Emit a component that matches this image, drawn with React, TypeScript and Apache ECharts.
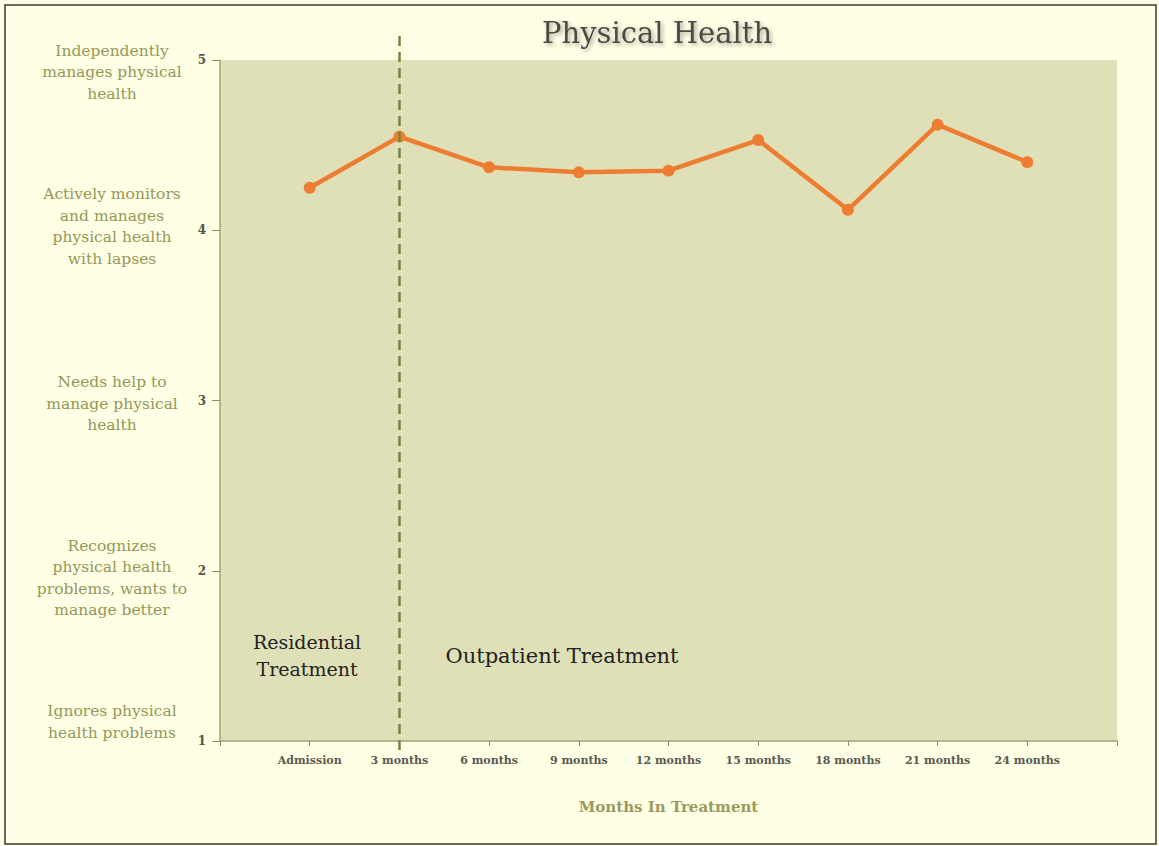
import React, { useEffect, useRef } from "react";
import * as echarts from "echarts";

const categories = ["", "Admission", "3 months", "6 months", "9 months", "12 months", "15 months", "18 months", "21 months", "24 months", ""];
const scores = [null, 4.25, 4.55, 4.37, 4.34, 4.35, 4.53, 4.12, 4.62, 4.40, null];
const levelLabels = [
  { value: 5, text: "Independently\nmanages physical\nhealth", offset: 12 },
  { value: 4, text: "Actively monitors\nand manages\nphysical health\nwith lapses", offset: -4 },
  { value: 3, text: "Needs help to\nmanage physical\nhealth", offset: 3 },
  { value: 2, text: "Recognizes\nphysical health\nproblems, wants to\nmanage better", offset: 7 },
  { value: 1, text: "Ignores physical\nhealth problems", offset: -19 },
];
const dividerCategory = "3 months";

const SERIF = "'DejaVu Serif', 'Liberation Serif', serif";

export default function App() {
  const ref = useRef<HTMLDivElement>(null);
  useEffect(() => {
    document.body.style.margin = "0";
    const chart = echarts.init(ref.current!, null, { renderer: "svg" });
    const gridLeft = 220;
    const gridTop = 60;
    const gridRight = 1159 - 1117;
    const gridBottom = 846 - 741;
    const option: any = {
      animation: false,
      backgroundColor: "#FFFFE6",
      title: {
        text: "Physical Health",
        left: 652,
        top: 13,
        textAlign: "center",
        textStyle: {
          fontFamily: SERIF,
          fontSize: 29,
          fontWeight: "normal",
          color: "#4c4c44",
          textShadowColor: "rgba(0,0,0,0.35)",
          textShadowBlur: 4,
          textShadowOffsetX: 2,
          textShadowOffsetY: 2,
        },
      },
      grid: [
        {
          left: gridLeft,
          top: gridTop,
          right: gridRight,
          bottom: gridBottom,
          show: true,
          backgroundColor: "#E0E0B8",
          borderWidth: 0,
        },
        {
          left: gridLeft,
          top: 34,
          right: gridRight,
          bottom: 846 - 750,
          show: false,
        },
      ],
      xAxis: [
        {
          type: "category",
          data: categories,
          boundaryGap: false,
          name: "Months In Treatment",
          nameLocation: "middle",
          nameGap: 58,
          nameTextStyle: { fontFamily: SERIF, fontSize: 15, fontWeight: "bold", color: "#9a9a5e" },
          axisLine: { lineStyle: { color: "#a3a374", width: 1.5 } },
          axisTick: { show: true, alignWithLabel: true, length: 5, lineStyle: { color: "#8c8c60" }, interval: 0 },
          axisLabel: {
            interval: 0,
            margin: 14,
            fontFamily: SERIF,
            fontSize: 11,
            fontWeight: "bold",
            color: "#5a5a50",
          },
          splitLine: { show: false },
        },
        {
          type: "category",
          data: categories,
          boundaryGap: false,
          gridIndex: 1,
          show: false,
        },
      ],
      yAxis: [
        {
          type: "value",
          min: 1,
          max: 5,
          interval: 1,
          axisLine: { show: true, lineStyle: { color: "#a3a374", width: 1.5 } },
          axisTick: { show: true, length: 8, lineStyle: { color: "#8c8c60" } },
          axisLabel: {
            margin: 14,
            fontFamily: SERIF,
            fontSize: 12,
            fontWeight: "bold",
            color: "#55554c",
          },
          splitLine: { show: false },
        },
        {
          type: "value",
          gridIndex: 1,
          min: 0,
          max: 1,
          show: false,
        },
      ],
      series: [
        {
          type: "line",
          data: scores,
          connectNulls: false,
          symbol: "circle",
          symbolSize: 12,
          lineStyle: { color: "#ED7D31", width: 4.5 },
          itemStyle: { color: "#ED7D31" },
          z: 3,
        },
        {
          type: "line",
          xAxisIndex: 1,
          yAxisIndex: 1,
          data: categories.map(() => null),
          symbol: "none",
          z: 5,
          markLine: {
            silent: true,
            z: 5,
            symbol: ["none", "none"],
            label: { show: false },
            lineStyle: { color: "#6b8a3a", type: [10, 6], width: 2.5 },
            data: [{ xAxis: dividerCategory }],
          },
        },
      ],
      graphic: [
        {
          type: "rect",
          shape: { x: 5, y: 5, width: 1151, height: 839 },
          style: { fill: "none", stroke: "#3a3a36", lineWidth: 1.5 },
          z: 10,
        },
        ...levelLabels.map((l) => ({
          type: "text",
          x: 112,
          y: gridTop + (5 - l.value) * ((741 - 60) / 4) + l.offset,
          style: {
            text: l.text,
            fontFamily: SERIF,
            fontSize: 15.5,
            lineHeight: 21.5,
            fill: "#959858",
            align: "center",
            verticalAlign: "middle",
          },
        })),
        {
          type: "text",
          x: 307,
          y: 655,
          style: {
            text: "Residential\nTreatment",
            fontFamily: SERIF,
            fontSize: 19,
            lineHeight: 27,
            fill: "#222",
            align: "center",
            verticalAlign: "middle",
          },
        },
        {
          type: "text",
          x: 562,
          y: 656,
          style: {
            text: "Outpatient Treatment",
            fontFamily: SERIF,
            fontSize: 21,
            fill: "#222",
            align: "center",
            verticalAlign: "middle",
          },
        },
      ],
    };
    chart.setOption(option);
    return () => chart.dispose();
  }, []);
  return <div ref={ref} style={{ position: "fixed", left: 0, top: 0, width: 1159, height: 846 }} />;
}
